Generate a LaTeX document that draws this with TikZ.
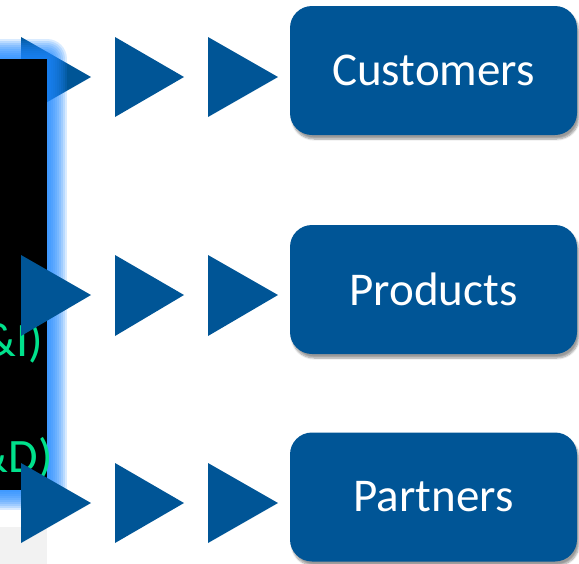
\documentclass[tikz,border=0pt]{standalone}
\usepackage{fontspec}
\setmainfont{Carlito}
\usetikzlibrary{shadows.blur}
\definecolor{boxblue}{RGB}{0,85,150}
\definecolor{glowblue}{RGB}{30,135,255}
\definecolor{textgreen}{RGB}{0,225,140}
\tikzset{
  entity/.style={draw=none, fill=boxblue, rounded corners=22pt, minimum width=287pt, minimum height=129pt,
    text=white, font=\fontsize{47}{50}\selectfont, inner sep=0pt,
    blur shadow={shadow xshift=2pt, shadow yshift=-4pt, shadow blur steps=8, shadow opacity=40}},
  tri/.style={fill=boxblue, draw=none},
  greentxt/.style={text=textgreen, font=\fontsize{48}{50}\selectfont, inner sep=0pt, anchor=base east},
}
\begin{document}
\begin{tikzpicture}[x=1pt,y=-1pt]
\useasboundingbox (0,0) rectangle (579,563);
\begin{scope}
\clip (0,0) rectangle (579,563);
% first triangle of row 1 (behind the glowing box)
\fill[tri] (21,37) -- (91,77) -- (21,117) -- cycle;
% reflection of the box
\fill[gray!10] (-20,527) rectangle (47,580);
\node[text=textgreen!30!gray!30, font=\fontsize{48}{50}\selectfont, inner sep=0pt, anchor=base east, yscale=-1] (refl) at (53,582) {\&D)};
% glow
\foreach \w in {40,36,...,4}{
  \draw[glowblue, line width=\w pt, opacity=0.17, line join=round] (-30,59) rectangle (47,490);
}
\node[fill=black, draw=none, minimum width=77pt, minimum height=431pt, inner sep=0pt, anchor=north east] (panel) at (47,59) {};
\node[greentxt] (ri) at (43,356) {\&I)};
\node[greentxt] (rd) at (53,472) {\&D)};
% triangles
\fill[tri] (115,37) -- (184,77) -- (115,117) -- cycle;
\fill[tri] (208,37) -- (278,77) -- (208,117) -- cycle;
\fill[tri] (21,255) -- (91,295) -- (21,336) -- cycle;
\fill[tri] (115,255) -- (184,295) -- (115,336) -- cycle;
\fill[tri] (208,255) -- (278,295) -- (208,336) -- cycle;
\fill[tri] (21,463) -- (91,503) -- (21,543) -- cycle;
\fill[tri] (115,463) -- (184,503) -- (115,543) -- cycle;
\fill[tri] (208,463) -- (278,503) -- (208,543) -- cycle;
% boxes
\node[entity] (cust) at (433.5,70.5) {Customers};
\node[entity] (prod) at (433.5,289.5) {Products};
\node[entity] (part) at (433.5,497) {Partners};
\end{scope}
\end{tikzpicture}
\end{document}
